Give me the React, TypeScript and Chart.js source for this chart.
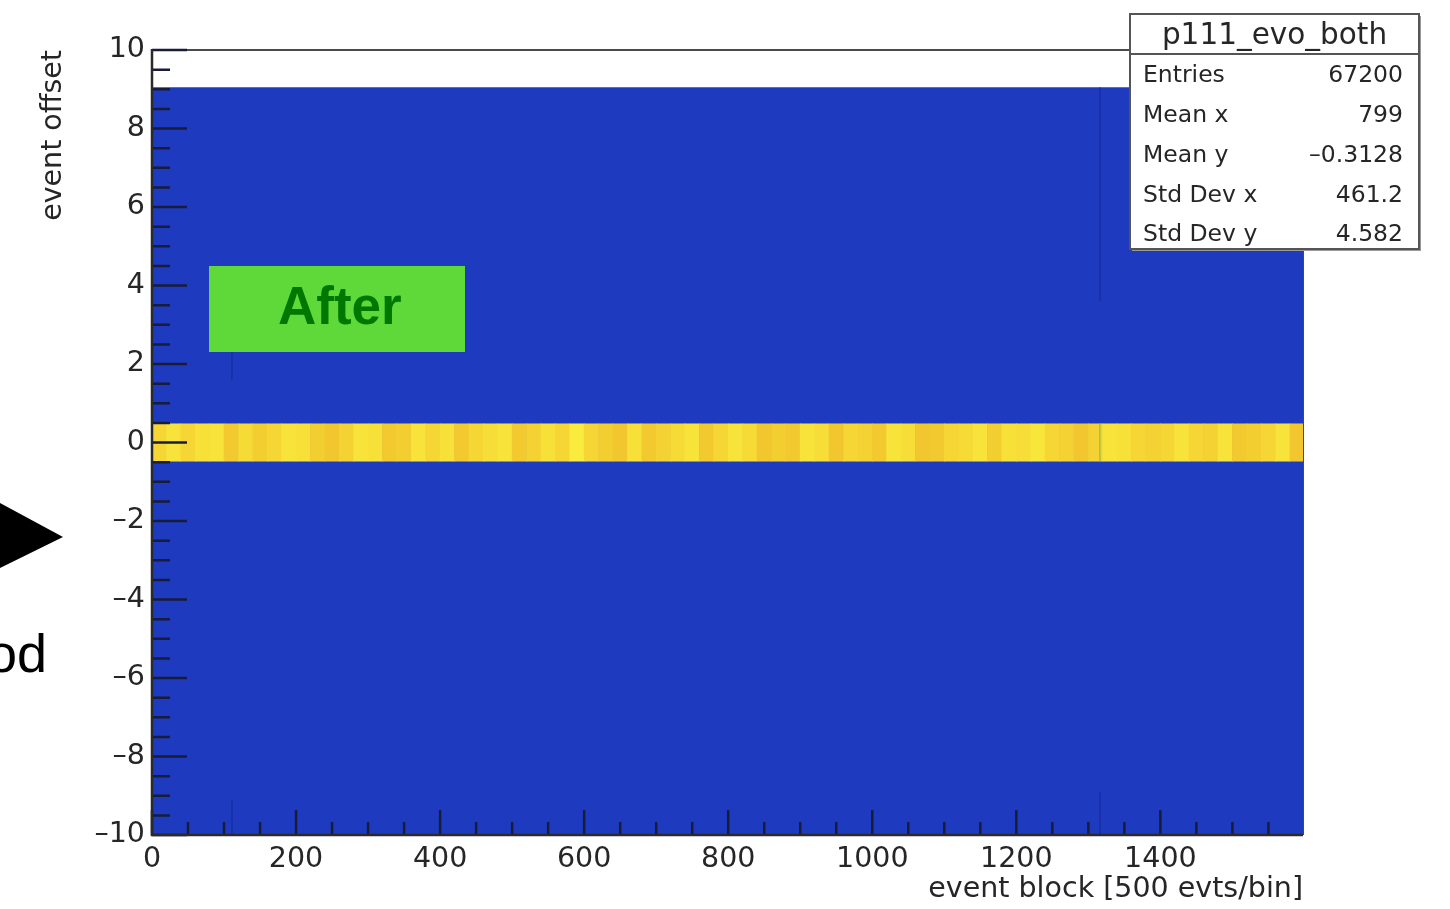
import { useEffect, useRef } from "react";
import { Chart, registerables } from "chart.js";

Chart.register(...registerables);

// ---- axis ranges and ticks ----
const X_RANGE = [0, 1598];
const Y_RANGE = [-10, 10];
const xTickValues = [0, 200, 400, 600, 800, 1000, 1200, 1400];
const yTickValues = [-10, -8, -6, -4, -2, 0, 2, 4, 6, 8, 10];
const xMinorStep = 50;
const yMinorStep = 0.5;

// ---- histogram content (y bins are 20/21 wide) ----
// rows with low occupancy, drawn with the bottom palette colour
const occupiedRows = [-10, 9.048];
// the row around zero offset holding almost all entries
const peakRow = [-0.476, 0.476];
// entries per 20-block column in the zero-offset row
const peakColumnWidth = 20;
const peakCounts = [
  42.8, 44.4, 42.8, 44.0, 44.4, 41.6, 43.2, 42.0, 42.8, 44.4,
  44.0, 42.0, 41.2, 42.4, 44.4, 44.0, 41.6, 42.0, 44.4, 42.8,
  44.0, 41.6, 42.8, 43.6, 44.4, 41.6, 42.4, 44.0, 42.8, 45.6,
  42.8, 42.0, 41.2, 44.0, 41.6, 42.4, 43.2, 44.4, 41.6, 42.8,
  44.4, 43.2, 41.2, 42.0, 41.6, 44.4, 43.6, 41.2, 42.8, 42.4,
  41.6, 44.4, 43.6, 41.2, 41.6, 42.8, 43.2, 44.4, 42.0, 44.0,
  43.6, 44.8, 42.8, 42.4, 41.2, 42.4, 44.4, 44.0, 42.8, 42.4,
  42.8, 44.4, 42.8, 42.4, 44.4, 41.6, 42.0, 42.8, 44.4, 41.2,
];
// single block columns that stand out
const peakStreaks = [1316];
const lowStreaks = [
  { x: 1316, y: [3.6, 9.048] },
  { x: 1316, y: [-10, -8.9] },
  { x: 111, y: [1.6, 2.3] },
  { x: 111, y: [-10, -9.1] },
];

// ---- statistics box ----
const statsTitle = "p111_evo_both";
const statsLabels = ["Entries", "Mean x", "Mean y", "Std Dev x", "Std Dev y"];
const statsValues = ["67200", "799", "\u20130.3128", "461.2", "4.582"];

const ROOT_FONT = "'DejaVu Sans', 'Liberation Sans', sans-serif";
const TEXT_COLOR = "#262626";
const LOW_COLOR = "#1e3bc0";

function peakColor(c: number): string {
  const lo = [240, 196, 46];
  const mid = [246, 219, 54];
  const hi = [249, 236, 62];
  let t = (c - 41) / (45.6 - 41);
  t = Math.max(0, Math.min(1, t));
  const [a, b, u] = t < 0.5 ? [lo, mid, t * 2] : [mid, hi, (t - 0.5) * 2];
  const ch = a.map((v, i) => Math.round(v + (b[i] - v) * u));
  return `rgb(${ch[0]},${ch[1]},${ch[2]})`;
}

const fmtTick = (v: number) => (v < 0 ? "\u2013" + Math.abs(v) : String(v));

const rootDecor = {
  id: "rootDecor",
  beforeDatasetsDraw(chart: any) {
    const { ctx, chartArea: a } = chart;
    ctx.save();
    ctx.strokeStyle = "#4a4a4a";
    ctx.lineWidth = 2;
    ctx.beginPath();
    ctx.moveTo(a.left, a.top);
    ctx.lineTo(a.right, a.top);
    ctx.lineTo(a.right, a.bottom);
    ctx.stroke();
    ctx.restore();
  },
  afterDatasetsDraw(chart: any) {
    const { ctx, chartArea: a } = chart;
    const { x, y } = chart.scales;
    ctx.save();
    ctx.strokeStyle = "#181c38";
    ctx.lineWidth = 2.5;
    ctx.beginPath();
    for (let v = Y_RANGE[0]; v <= Y_RANGE[1] + 1e-9; v += yMinorStep) {
      const major = yTickValues.some((t) => Math.abs(t - v) < 1e-6);
      const py = y.getPixelForValue(v);
      ctx.moveTo(a.left, py);
      ctx.lineTo(a.left + (major ? 35 : 18), py);
    }
    for (let v = X_RANGE[0]; v <= X_RANGE[1] + 1e-9; v += xMinorStep) {
      const major = xTickValues.includes(v);
      const px = x.getPixelForValue(v);
      ctx.moveTo(px, a.bottom);
      ctx.lineTo(px, a.bottom - (major ? 25 : 13));
    }
    ctx.stroke();
    // axis lines
    ctx.strokeStyle = "#2a2a2a";
    ctx.lineWidth = 2.5;
    ctx.beginPath();
    ctx.moveTo(a.left, a.top - 1);
    ctx.lineTo(a.left, a.bottom);
    ctx.lineTo(a.right, a.bottom);
    ctx.stroke();
    ctx.restore();
  },
  afterDraw(chart: any) {
    const { ctx } = chart;
    const L = 1130, T = 14, R = 1419, B = 249;
    ctx.save();
    ctx.fillStyle = "#9a9a9a";
    ctx.fillRect(L + 2, T + 2, R - L, B - T);
    ctx.fillStyle = "#ffffff";
    ctx.fillRect(L, T, R - L, B - T);
    ctx.strokeStyle = "#555";
    ctx.lineWidth = 2;
    ctx.strokeRect(L, T, R - L, B - T);
    ctx.beginPath();
    ctx.moveTo(L, 54);
    ctx.lineTo(R, 54);
    ctx.stroke();
    ctx.fillStyle = TEXT_COLOR;
    ctx.textBaseline = "alphabetic";
    ctx.font = `29.5px ${ROOT_FONT}`;
    ctx.textAlign = "center";
    ctx.fillText(statsTitle, (L + R) / 2, 44);
    ctx.font = `23.5px ${ROOT_FONT}`;
    const baselines = [82, 122, 162, 202, 241];
    statsLabels.forEach((lab, i) => {
      ctx.textAlign = "left";
      ctx.fillText(lab, 1143, baselines[i]);
      ctx.textAlign = "right";
      ctx.fillText(statsValues[i], 1403, baselines[i]);
    });
    ctx.restore();
  },
};

export default function App() {
  const ref = useRef<HTMLCanvasElement>(null);

  useEffect(() => {
    if (!ref.current) return;
    const peakData = peakCounts.map((_, i) => ({
      x: X_RANGE[0] + peakColumnWidth * (i + 0.5),
      y: peakRow,
    }));
    const streakSets: any[] = [
      ...peakStreaks.map((sx) => ({
        type: "line",
        data: [
          { x: sx, y: peakRow[0] },
          { x: sx, y: peakRow[1] },
        ],
        borderColor: "rgba(150,190,70,0.85)",
        borderWidth: 1.5,
        pointRadius: 0,
        fill: false,
        order: 1,
      })),
      ...lowStreaks.map((s) => ({
        type: "line",
        data: [
          { x: s.x, y: s.y[0] },
          { x: s.x, y: s.y[1] },
        ],
        borderColor: "rgba(18,34,140,0.55)",
        borderWidth: 1.5,
        pointRadius: 0,
        fill: false,
        order: 1,
      })),
    ];

    const chart = new Chart(ref.current, {
      type: "bar",
      data: {
        datasets: [
          {
            type: "line",
            data: [
              { x: X_RANGE[0], y: occupiedRows[1] },
              { x: X_RANGE[1], y: occupiedRows[1] },
            ],
            borderWidth: 0,
            borderColor: LOW_COLOR,
            backgroundColor: LOW_COLOR,
            pointRadius: 0,
            fill: { value: occupiedRows[0] },
            order: 3,
          } as any,
          {
            type: "bar",
            data: peakData as any,
            backgroundColor: peakCounts.map(peakColor),
            borderWidth: 0,
            barPercentage: 1,
            categoryPercentage: 1,
            order: 2,
          } as any,
          ...streakSets,
        ],
      },
      options: {
        animation: false,
        responsive: false,
        maintainAspectRatio: false,
        events: [],
        layout: { padding: { left: 0, top: 50, right: 147, bottom: 0 } },
        plugins: { legend: { display: false }, tooltip: { enabled: false } },
        scales: {
          x: {
            type: "linear",
            min: X_RANGE[0],
            max: X_RANGE[1],
            offset: false,
            afterFit: (s: any) => {
              s.height = 74;
            },
            afterBuildTicks: (s: any) => {
              s.ticks = xTickValues.map((v) => ({ value: v }));
            },
            grid: { display: false, drawTicks: false, offset: false },
            border: { display: false },
            ticks: {
              autoSkip: false,
              maxRotation: 0,
              padding: 7,
              color: TEXT_COLOR,
              font: { family: ROOT_FONT, size: 28.5 },
              callback: (v: any) => fmtTick(Number(v)),
            },
            title: {
              display: true,
              text: "event block [500 evts/bin]",
              align: "end",
              color: TEXT_COLOR,
              font: { family: ROOT_FONT, size: 28.5 },
              padding: { top: 0, bottom: 2 },
            },
          },
          y: {
            type: "linear",
            min: Y_RANGE[0],
            max: Y_RANGE[1],
            afterFit: (s: any) => {
              s.width = 152;
            },
            afterBuildTicks: (s: any) => {
              s.ticks = yTickValues.map((v) => ({ value: v }));
            },
            grid: { display: false, drawTicks: false },
            border: { display: false },
            ticks: {
              autoSkip: false,
              padding: 7,
              color: TEXT_COLOR,
              font: { family: ROOT_FONT, size: 28.5 },
              callback: (v: any) => fmtTick(Number(v)),
            },
            title: {
              display: true,
              text: "event offset",
              align: "end",
              color: TEXT_COLOR,
              font: { family: ROOT_FONT, size: 28.5 },
              padding: { top: 36, bottom: 0 },
            },
          },
        },
      } as any,
      plugins: [rootDecor],
    });
    return () => chart.destroy();
  }, []);

  return (
    <div
      style={{
        position: "absolute",
        left: 0,
        top: 0,
        width: 1450,
        height: 909,
        background: "#ffffff",
        overflow: "hidden",
      }}
    >
      <canvas
        ref={ref}
        width={1450}
        height={909}
        style={{ position: "absolute", left: 0, top: 0 }}
      />
      <div
        style={{
          position: "absolute",
          left: 209,
          top: 266,
          width: 256,
          height: 86,
          background: "#5fd93a",
        }}
      >
        <span
          style={{
            position: "absolute",
            left: 69,
            top: 13,
            font: "bold 53px 'Liberation Sans', Arial, sans-serif",
            lineHeight: "53px",
            color: "#007800",
            whiteSpace: "nowrap",
          }}
        >
          After
        </span>
      </div>
      <svg
        width={80}
        height={80}
        style={{ position: "absolute", left: 0, top: 495 }}
      >
        <polygon points="0,8 63,42 0,73" fill="#000" />
      </svg>
      <span
        style={{
          position: "absolute",
          left: -13,
          top: 626,
          font: "54px 'Liberation Sans', Arial, sans-serif",
          lineHeight: "54px",
          color: "#000",
          whiteSpace: "nowrap",
        }}
      >
        od
      </span>
    </div>
  );
}
